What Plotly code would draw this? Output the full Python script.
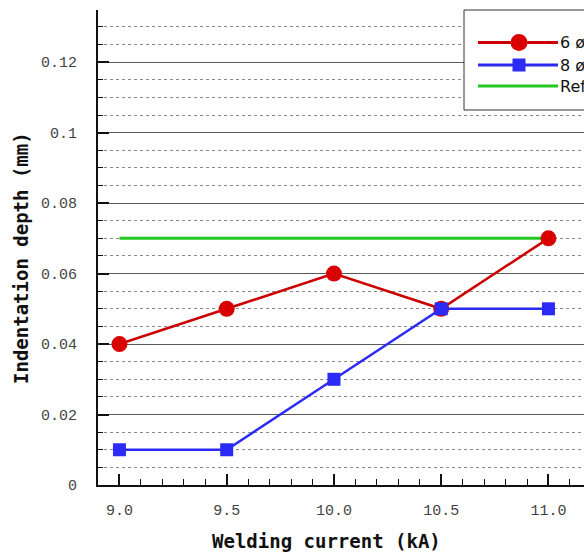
import plotly.graph_objects as go

current = [9.0, 9.5, 10.0, 10.5, 11.0]
depth_6 = [0.04, 0.05, 0.06, 0.05, 0.07]
depth_8 = [0.01, 0.01, 0.03, 0.05, 0.05]
ref_x = [9.0, 11.0]
ref_y = [0.07, 0.07]
legend_names = ["6 ø", "8 ø", "Ref"]

RED = "#cc0000"
BLUE = "#2b2bf5"
GREEN = "#22c922"

fig = go.Figure()
fig.add_trace(go.Scatter(x=ref_x, y=ref_y, mode="lines", name=legend_names[2],
                         line=dict(color=GREEN, width=3)))
fig.add_trace(go.Scatter(x=current, y=depth_6, mode="lines+markers", name=legend_names[0],
                         line=dict(color=RED, width=2.5),
                         marker=dict(symbol="circle", size=16, color="#d80000",
                                     line=dict(width=0))))
fig.add_trace(go.Scatter(x=current, y=depth_8, mode="lines+markers", name=legend_names[1],
                         line=dict(color=BLUE, width=2.5),
                         marker=dict(symbol="square", size=13, color=BLUE,
                                     line=dict(width=0))))

W, H = 584, 553
L, T, R = 98, 10, 0
B = H - 485
pw = W - L - R
ph = H - T - B

def px(x):  # window pixel -> paper
    return (x - L) / pw

def py(y):
    return (H - B - y) / ph

xmax = 8.9 + pw / 214.5

tickfont = dict(family="Liberation Mono", size=15, color="#444444")
titlefont = dict(family="DejaVu Sans Mono", size=19, color="#111111", weight="bold")

fig.update_layout(
    width=W, height=H,
    margin=dict(l=L, r=R, t=T, b=B, pad=0),
    plot_bgcolor="white", paper_bgcolor="white",
    showlegend=False,
    xaxis=dict(range=[8.9, xmax], tickvals=[9.0, 9.5, 10.0, 10.5, 11.0],
               ticktext=["9.0", "9.5", "10.0", "10.5", "11.0"],
               showgrid=False, zeroline=False,
               showline=True, linecolor="#111111", linewidth=2,
               ticks="inside", ticklen=11, tickwidth=2, tickcolor="#111111",
               minor=dict(dtick=0.1, tick0=9.0, ticks="inside", ticklen=6,
                          tickwidth=1, tickcolor="#111111", showgrid=False),
               tickfont=tickfont, ticklabelstandoff=10),
    yaxis=dict(range=[0, 0.1348],
               tickvals=[0, 0.02, 0.04, 0.06, 0.08, 0.1, 0.12],
               ticktext=["0", "0.02", "0.04", "0.06", "0.08", "0.1", "0.12"],
               showgrid=True, gridcolor="#5a5a5a", gridwidth=1,
               zeroline=False,
               showline=True, linecolor="#111111", linewidth=2,
               ticks="inside", ticklen=11, tickwidth=2, tickcolor="#111111",
               minor=dict(dtick=0.005, tick0=0, ticks="inside", ticklen=5,
                          tickwidth=1, tickcolor="#111111", showgrid=True,
                          gridcolor="#8a8a8a", griddash="dot", gridwidth=1),
               tickfont=tickfont, ticklabelstandoff=16),
)

# axis titles
fig.add_annotation(text="Welding current (kA)", xref="paper", yref="paper",
                   x=px(326), y=py(541), showarrow=False, font=titlefont,
                   xanchor="center", yanchor="middle")
fig.add_annotation(text="Indentation depth (mm)", xref="paper", yref="paper",
                   x=px(21), y=py(258), showarrow=False, font=titlefont,
                   textangle=-90, xanchor="center", yanchor="middle")

# custom legend box
fig.add_shape(type="rect", xref="paper", yref="paper",
              x0=px(464), x1=px(700), y0=py(110), y1=py(10),
              line=dict(color="#333333", width=1), fillcolor="white", layer="above")
leg_y = [42.5, 65, 86]
leg_col = [RED, BLUE, GREEN]
for yy, cc in zip(leg_y, leg_col):
    fig.add_shape(type="line", xref="paper", yref="paper",
                  x0=px(478), x1=px(558), y0=py(yy), y1=py(yy),
                  line=dict(color=cc, width=3), layer="above")
fig.add_shape(type="circle", xref="paper", yref="paper",
              xsizemode="pixel", ysizemode="pixel",
              xanchor=px(519), yanchor=py(leg_y[0]),
              x0=-8.5, x1=8.5, y0=-8.5, y1=8.5,
              fillcolor="#d80000", line=dict(width=0), layer="above")
fig.add_shape(type="rect", xref="paper", yref="paper",
              xsizemode="pixel", ysizemode="pixel",
              xanchor=px(519), yanchor=py(leg_y[1]),
              x0=-6.5, x1=6.5, y0=-6.5, y1=6.5,
              fillcolor=BLUE, line=dict(width=0), layer="above")
for yy, nm in zip(leg_y, legend_names):
    fig.add_annotation(text=nm, xref="paper", yref="paper", x=px(558), y=py(yy),
                       showarrow=False, xanchor="left", yanchor="middle",
                       font=dict(family="DejaVu Sans", size=16, color="#111111"))

fig.write_html("out.html", config={"displayModeBar": False},
               post_script="document.body.style.margin='0';document.body.style.overflow='hidden';")
